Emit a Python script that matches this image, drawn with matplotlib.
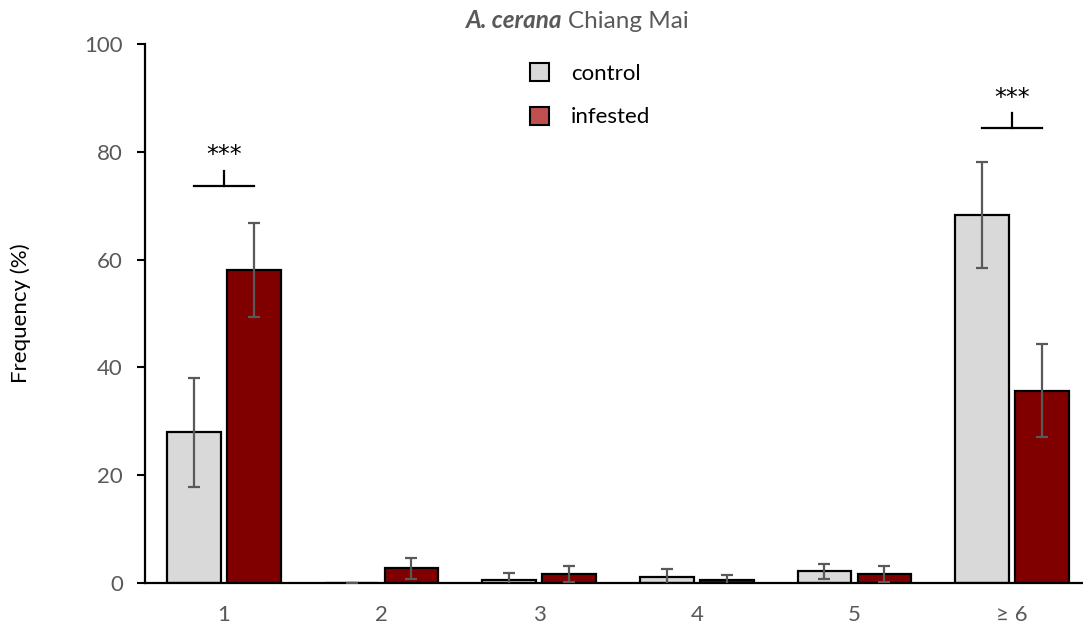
import numpy as np
import matplotlib.pyplot as plt
from matplotlib.patches import Patch

plt.rcParams['font.family'] = ['Lato', 'DejaVu Sans']

categories = ['1', '2', '3', '4', '5', '\u2265 6']
control = [28.0, 0.0, 0.6, 1.1, 2.2, 68.3]
control_err = [10.1, 0.0, 1.2, 1.5, 1.4, 9.9]
infested = [58.1, 2.7, 1.6, 0.5, 1.6, 35.7]
infested_err = [8.7, 2.0, 1.5, 1.0, 1.5, 8.7]
# significance brackets: (category index, bracket height, label)
signif = [(0, 73.7, '***'), (5, 84.4, '***')]

grey = '#595959'

if __name__ == "__main__":
    fig = plt.figure(figsize=(10.83, 6.28), dpi=100)
    ax = fig.add_axes([145/1083, 45/628, 938/1083, 539/628])

    x = np.arange(len(categories))
    w = 0.34
    off = 0.19
    ax.bar(x - off, control, w, color='#d9d9d9', edgecolor='black', linewidth=1.6, zorder=2)
    ax.bar(x + off, infested, w, color='#800000', edgecolor='black', linewidth=1.6, zorder=2)
    ax.errorbar(x - off, control, yerr=control_err, fmt='none', ecolor=grey,
                elinewidth=1.6, capsize=4.5, capthick=1.6, zorder=3)
    ax.errorbar(x + off, infested, yerr=infested_err, fmt='none', ecolor=grey,
                elinewidth=1.6, capsize=4.5, capthick=1.6, zorder=3)

    for i, h, s in signif:
        ax.plot([i - off, i + off], [h, h], color='black', lw=1.6)
        ax.plot([i, i], [h, h + 2.8], color='black', lw=1.6)
        ax.text(i, h + 3.4, s, ha='center', va='bottom', fontsize=17, color='black',
                family='DejaVu Sans')

    ax.set_xlim(-0.5, 5.45)
    ax.set_ylim(0, 100)
    ax.set_yticks(np.arange(0, 101, 20))
    ax.set_xticks(x)
    ax.set_xticklabels(categories)
    ax.tick_params(axis='y', length=6, width=1.5, pad=10, labelsize=16, labelcolor=grey)
    ax.tick_params(axis='x', length=0, pad=16, labelsize=16, labelcolor=grey)
    for sp in ['top', 'right']:
        ax.spines[sp].set_visible(False)
    ax.spines['left'].set_linewidth(1.6)
    ax.spines['bottom'].set_linewidth(1.6)
    ax.set_ylabel('Frequency (%)', fontsize=16, color='black')
    ax.yaxis.set_label_coords(-0.122, 0.5)

    handles = [Patch(facecolor='#d9d9d9', edgecolor='black', linewidth=1.5),
               Patch(facecolor='#c0504d', edgecolor='black', linewidth=1.5)]
    fig.legend(handles, ['control', 'infested'], loc='upper left',
               bbox_to_anchor=(510/1083, 1 - 43/628), frameon=False, fontsize=16,
               handlelength=0.85, handleheight=0.85, handletextpad=1.0, labelspacing=1.05)

    ty = 1 - 21/628
    t = fig.text(466/1083, ty, 'A. cerana', fontsize=17.5, color=grey,
                 va='center', ha='left', weight='bold', style='italic')
    fig.canvas.draw()
    bb = t.get_window_extent()
    fig.text((bb.x1 + 6) / 1083, ty, 'Chiang Mai', fontsize=17.5, color=grey,
             va='center', ha='left')

    plt.savefig('out.png', dpi=100)
